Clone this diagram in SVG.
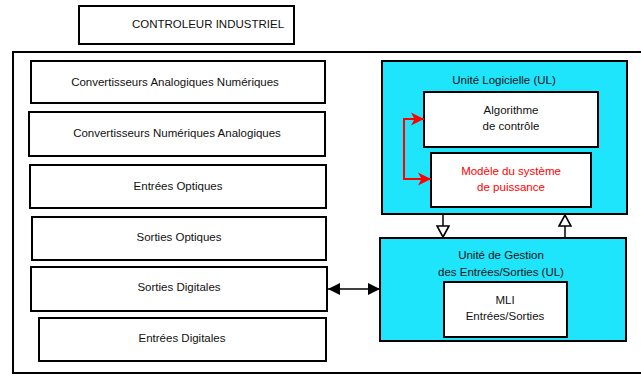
<svg xmlns="http://www.w3.org/2000/svg" width="641" height="376" viewBox="0 0 641 376">
<style>
.b{fill:#fff;stroke:#000;stroke-width:2}
.c{fill:#1fe5fc;stroke:#000;stroke-width:2}
text{font-family:"Liberation Sans",Arial,sans-serif;font-size:11.5px;fill:#111;text-anchor:middle}
.r{fill:#f00}
.k{fill:none;stroke:#000;stroke-width:1.5}
</style>
<defs>
<marker id="fa" markerWidth="13" markerHeight="13" refX="12" refY="6.5" orient="auto-start-reverse" markerUnits="userSpaceOnUse"><path d="M0,0.5 L12,6.5 L0,12.5 Z" fill="#000"/></marker>
<marker id="oa" markerWidth="14" markerHeight="14" refX="12" refY="7" orient="auto" markerUnits="userSpaceOnUse"><path d="M1,1 L12,7 L1,13 Z" fill="#fff" stroke="#000" stroke-width="1.6"/></marker>
<marker id="ra" markerWidth="14" markerHeight="14" refX="13" refY="7" orient="auto" markerUnits="userSpaceOnUse"><path d="M0,0.5 L13,7 L0,13.5 L3.5,7 Z" fill="#f00"/></marker>
</defs>
<g id="title"><rect class="b" x="79" y="6" width="215" height="38"/><text x="208" y="28">CONTROLEUR INDUSTRIEL</text></g>
<g id="outer"><rect x="13" y="52" width="640" height="321" fill="none" stroke="#000" stroke-width="2"/></g>
<g id="can"><rect class="b" x="31" y="61" width="294" height="42"/><text x="175" y="86">Convertisseurs Analogiques Numériques</text></g>
<g id="cna"><rect class="b" x="29" y="112" width="296" height="44"/><text x="177" y="137">Convertisseurs Numériques Analogiques</text></g>
<g id="eo"><rect class="b" x="30" y="165" width="296" height="43"/><text x="178" y="190">Entrées Optiques</text></g>
<g id="so"><rect class="b" x="32" y="217" width="294" height="43"/><text x="179" y="241">Sorties Optiques</text></g>
<g id="sd"><rect class="b" x="31" y="267" width="296" height="44"/><text x="179" y="291">Sorties Digitales</text></g>
<g id="ed"><rect class="b" x="39" y="318" width="287" height="43"/><text x="182" y="342">Entrées Digitales</text></g>
<g id="ul"><rect class="c" x="382" y="61" width="245" height="153"/><text x="504" y="84">Unité Logicielle (UL)</text></g>
<g id="algo"><rect class="b" x="424" y="92" width="174" height="55"/><text x="511" y="114">Algorithme</text><text x="511" y="130">de contrôle</text></g>
<g id="modele"><rect class="b" x="431" y="153" width="160" height="54"/><text class="r" x="511" y="175">Modèle du système</text><text class="r" x="511" y="191">de puissance</text></g>
<g id="uges"><rect class="c" x="380" y="238" width="246" height="103"/><text x="501" y="259">Unité de Gestion</text><text x="501" y="276">des Entrées/Sorties (UL)</text></g>
<g id="mli"><rect class="b" x="444" y="282" width="123" height="55"/><text x="505" y="304">MLI</text><text x="505" y="320">Entrées/Sorties</text></g>
<g id="connectors">
<path d="M424,119 H404 V179 H431" fill="none" stroke="#f00" stroke-width="2" marker-end="url(#ra)"/>
<path d="M404,119 H424" fill="none" stroke="#f00" stroke-width="2" marker-end="url(#ra)"/>
<path class="k" d="M443,214 V237" marker-end="url(#oa)"/>
<path class="k" d="M565,238 V215" marker-end="url(#oa)"/>
<path class="k" d="M328,289 H380" marker-start="url(#fa)" marker-end="url(#fa)"/>
</g>
</svg>
